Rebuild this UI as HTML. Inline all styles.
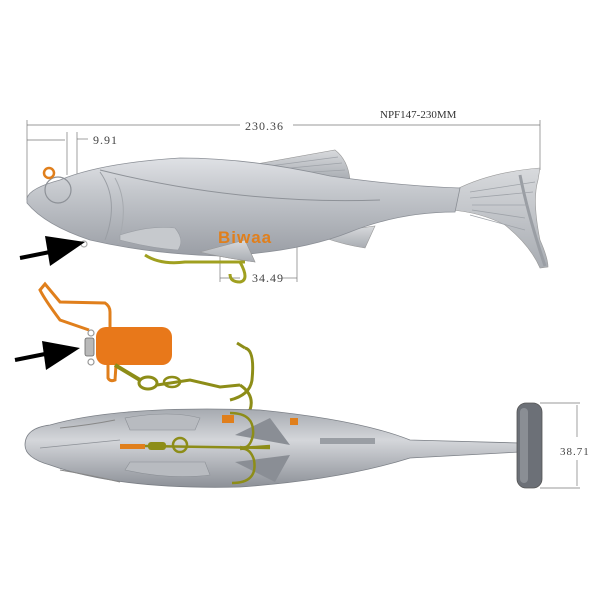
<!DOCTYPE html>
<html><head><meta charset="utf-8"><style>
html,body{margin:0;padding:0;background:#fff;}
svg{display:block;}
.s{font-family:"Liberation Serif",serif;}
.b{font-family:"Liberation Sans",sans-serif;font-weight:bold;}
</style></head><body>
<svg width="600" height="600" viewBox="0 0 600 600" xmlns="http://www.w3.org/2000/svg">
<defs>
<linearGradient id="bg" x1="0" y1="0" x2="0" y2="1">
<stop offset="0" stop-color="#dfe1e5"/><stop offset="0.35" stop-color="#c4c7cc"/><stop offset="1" stop-color="#9a9ea5"/>
</linearGradient>
<linearGradient id="bg2" x1="0" y1="0" x2="0" y2="1">
<stop offset="0" stop-color="#a6aab0"/><stop offset="0.4" stop-color="#d4d6da"/><stop offset="1" stop-color="#8d9198"/>
</linearGradient>
<linearGradient id="fin" x1="0" y1="0" x2="0" y2="1">
<stop offset="0" stop-color="#d8dadd"/><stop offset="1" stop-color="#a8acb2"/>
</linearGradient>
</defs>

<g stroke="#777" stroke-width="0.7" fill="none">
<line x1="27" y1="125" x2="240" y2="125"/>
<line x1="293" y1="125" x2="540" y2="125"/>
<line x1="27" y1="120" x2="27" y2="200"/>
<line x1="540" y1="120" x2="540" y2="170"/>
<line x1="27" y1="140" x2="65" y2="140"/>
<line x1="67" y1="132" x2="67" y2="175"/>
<line x1="77" y1="132" x2="77" y2="190"/>
<line x1="77" y1="139" x2="88" y2="139"/>
<line x1="220" y1="240" x2="220" y2="282"/>
<line x1="297" y1="240" x2="297" y2="282"/>
<line x1="220" y1="278" x2="240" y2="278"/>
<line x1="282" y1="278" x2="297" y2="278"/>
<line x1="540" y1="403" x2="580" y2="403"/>
<line x1="540" y1="488" x2="580" y2="488"/>
<line x1="577" y1="405" x2="577" y2="437"/>
<line x1="577" y1="460" x2="577" y2="486"/>
</g>
<text class="s" x="245" y="130" font-size="12" fill="#444" letter-spacing="1">230.36</text>
<text class="s" x="380" y="118" font-size="11" fill="#333">NPF147-230MM</text>
<text class="s" x="93" y="144" font-size="12" fill="#444" letter-spacing="1">9.91</text>
<text class="s" x="252" y="282" font-size="12" fill="#444" letter-spacing="1">34.49</text>
<text class="s" x="560" y="455" font-size="11" fill="#444" letter-spacing="1">38.71</text>

<path d="M245,166 L335,150 Q348,160 350,180 L300,178 Z" fill="url(#fin)" stroke="#999" stroke-width="0.6"/>
<path d="M200,252 L245,240 L255,262 Q225,258 200,252 Z" fill="url(#fin)" stroke="#999" stroke-width="0.6"/>
<path d="M330,232 L375,226 L365,248 Q345,245 325,238 Z" fill="url(#fin)" stroke="#999" stroke-width="0.6"/>
<path d="M455,190 Q490,172 540,168 L538,180 Q532,200 540,240 Q548,258 548,267 L540,268 Q530,245 505,225 Q480,212 450,210 Z" fill="url(#fin)" stroke="#999" stroke-width="0.6"/>
<path d="M520,175 Q528,215 545,266" stroke="#9a9ea4" stroke-width="3" fill="none"/>
<g stroke="#9ea2a8" stroke-width="0.8" fill="none">
<path d="M470,192 L535,182"/><path d="M470,198 L533,192"/><path d="M472,205 L528,205"/><path d="M472,210 L525,218"/><path d="M470,215 L525,230"/>
<path d="M262,167 L338,157"/><path d="M270,170 L342,163"/><path d="M280,174 L345,170"/>
</g>

<path d="M27,198 Q30,188 60,180 Q100,163 180,158 Q250,158 330,176 Q400,186 460,188 L455,212 Q400,212 350,232 Q300,252 220,256 Q150,254 90,240 Q45,225 27,203 Z" fill="url(#bg)" stroke="#8b8f96" stroke-width="0.8"/>
<path d="M200,252 L245,240 L255,262 Q225,258 200,252 Z" fill="url(#fin)" stroke="#999" stroke-width="0.6"/>
<circle cx="58" cy="190" r="13" fill="none" stroke="#8d9197" stroke-width="1.2"/>
<path d="M100,172 Q120,200 105,240" fill="none" stroke="#9a9ea4" stroke-width="1"/>
<path d="M115,178 Q130,205 118,243" fill="none" stroke="#a6aaaf" stroke-width="1"/>
<path d="M100,170 Q240,205 380,200" fill="none" stroke="#8e9298" stroke-width="1"/>
<path d="M120,235 Q150,225 175,228 Q185,240 178,250 Q150,248 120,240 Z" fill="#c6c9cd" stroke="#9a9ea4" stroke-width="0.6"/>
<text class="b" x="218" y="243" font-size="17" fill="#e07f1c" letter-spacing="1">Biwaa</text>
<circle cx="49" cy="173" r="5" fill="none" stroke="#e07f1c" stroke-width="2.5"/>
<circle cx="84" cy="244" r="3" fill="none" stroke="#aaa" stroke-width="1.2"/>
<g stroke="#a0a020" stroke-width="3" fill="none">
<path d="M145,255 Q160,265 185,262 L245,262"/>
<path d="M240,262 Q250,280 240,282 Q230,282 230,274"/>
</g>
<line x1="20" y1="258" x2="60" y2="250" stroke="#000" stroke-width="4"/>
<path d="M45,236 L85,242 L50,266 Z" fill="#000"/>
<line x1="15" y1="360" x2="55" y2="352" stroke="#000" stroke-width="4"/>
<path d="M42,341 L80,348 L46,370 Z" fill="#000"/>

<path d="M89,330 L60,320 Q45,300 40,290 L45,284 L60,302 L105,303 Q110,306 110,312 L110,330" fill="none" stroke="#e07f1c" stroke-width="3"/>
<path d="M108,360 L108,378 Q110,382 115,380 L116,365" fill="none" stroke="#e07f1c" stroke-width="3"/>
<rect x="96" y="327" width="76" height="38" rx="10" fill="#e8781a"/>
<rect x="85" y="338" width="9" height="18" rx="2" fill="#b9b9b9" stroke="#666" stroke-width="0.8"/>
<circle cx="91" cy="333" r="3" fill="none" stroke="#999" stroke-width="1.2"/>
<circle cx="91" cy="362" r="3" fill="none" stroke="#999" stroke-width="1.2"/>
<g stroke="#8d8d18" fill="none">
<path d="M115,365 L140,380" stroke-width="4"/>
<ellipse cx="148" cy="383" rx="9" ry="6" stroke-width="3"/>
<path d="M157,385 L190,380 L220,387 L240,385" stroke-width="3"/>
<ellipse cx="172" cy="382" rx="8" ry="5" stroke-width="2.5"/>
<path d="M245,348 Q255,350 252,380 Q250,395 230,400" stroke-width="3"/>
<path d="M237,343 L245,348" stroke-width="3"/>
<path d="M240,385 Q255,395 250,410 Q240,415 225,412" stroke-width="3"/>
</g>

<path d="M25,445 Q25,428 50,425 Q120,405 260,410 Q360,420 410,440 L520,443 L520,452 L410,458 Q340,480 240,487 Q120,490 50,465 Q25,458 25,445 Z" fill="url(#bg2)" stroke="#7c8087" stroke-width="0.8"/>
<path d="M40,448 L120,440" stroke="#8c9096" stroke-width="0.8"/>
<path d="M125,418 Q170,410 200,418 L195,430 L130,430 Z" fill="#b8bbc0" stroke="#8c9096" stroke-width="0.6"/>
<path d="M125,470 Q170,480 210,475 L205,462 L130,462 Z" fill="#b8bbc0" stroke="#8c9096" stroke-width="0.6"/>
<path d="M60,428 Q90,425 115,420" stroke="#888" stroke-width="1" fill="none"/>
<path d="M60,470 Q90,475 120,482" stroke="#888" stroke-width="1" fill="none"/>
<path d="M235,435 L270,418 L290,445 Z" fill="#8a8e95"/>
<path d="M235,462 L275,482 L290,455 Z" fill="#8a8e95"/>
<rect x="320" y="438" width="55" height="6" fill="#9a9ea4"/>
<rect x="222" y="415" width="12" height="8" fill="#e07f1c"/>
<rect x="290" y="418" width="8" height="7" fill="#e07f1c"/>
<rect x="120" y="444" width="25" height="5" fill="#e07f1c"/>
<rect x="517" y="403" width="25" height="85" rx="9" fill="#6c7077" stroke="#555" stroke-width="0.8"/>
<rect x="520" y="408" width="8" height="75" rx="4" fill="#8a8e94"/>
<g stroke="#8d8d18" fill="none" stroke-width="2.5">
<path d="M145,446 L270,448"/>
<circle cx="180" cy="445" r="7"/>
<path d="M230,413 Q255,413 253,435 Q250,450 240,447"/>
<path d="M232,483 Q258,483 254,460 Q250,447 240,449"/>
<path d="M240,448 L270,446"/>
</g>
<rect x="148" y="442" width="18" height="8" rx="3" fill="#8d8d18"/>
</svg>
</body></html>
